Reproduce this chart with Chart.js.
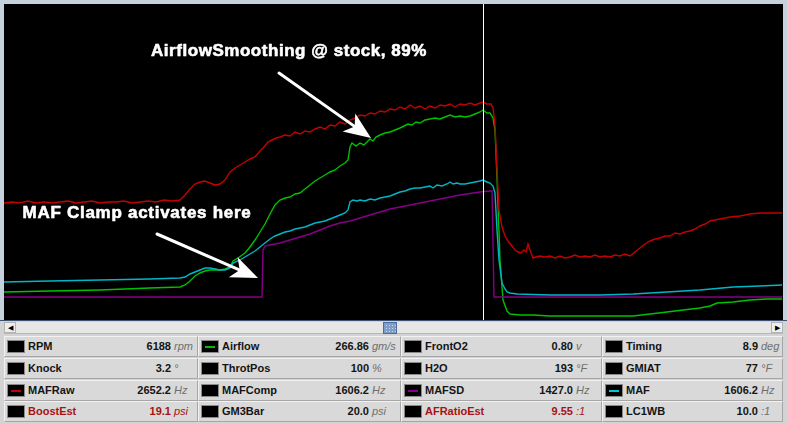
<!DOCTYPE html>
<html><head><meta charset="utf-8">
<script src="https://cdn.jsdelivr.net/npm/chart.js@4/dist/chart.umd.min.js"></script>
<style>
html,body{margin:0;padding:0;}
body{width:787px;height:424px;position:relative;overflow:hidden;background:#d3d3d3;font-family:"Liberation Sans",Arial,sans-serif;}
#frame{position:absolute;left:0;top:0;width:787px;height:321px;background:#c5d1dd;border-bottom:1px solid #3d4f73;box-sizing:border-box;}
#plot{position:absolute;left:4px;top:4px;width:779px;height:316px;background:#000;}
#sb{position:absolute;left:4px;top:322px;width:779px;height:12px;background:#e6e6e6;box-sizing:border-box;border-bottom:1px solid #b8b8b8;}
.btn{position:absolute;top:0;width:12px;height:11px;background:#eeeeee;border:1px solid #b4b4b4;box-sizing:border-box;font-size:7px;line-height:9px;text-align:center;color:#000;}
#thumb{position:absolute;left:379px;top:0;width:14px;height:12px;box-sizing:border-box;border:1px solid #4d6c9e;background-color:#7f9dc9;background-image:radial-gradient(circle,#c8d6ee 0.6px,transparent 0.9px);background-size:3px 3px;background-position:1px 1px;}
.cell{position:absolute;height:21px;background:#d9d9d9;box-sizing:border-box;border-top:1px solid #f2f2f2;border-left:1px solid #f2f2f2;border-right:1px solid #a6a6a6;border-bottom:1px solid #a6a6a6;}
.sw{position:absolute;left:2px;top:3px;width:18px;height:13px;background:#000;box-sizing:border-box;border:1px solid #8a8a8a;}
.sw i{position:absolute;left:3px;right:3px;top:5px;height:2px;}
.lb{position:absolute;left:23px;top:0;line-height:19px;font-size:11px;font-weight:bold;color:#141414;white-space:nowrap;}
.num{position:absolute;top:0;line-height:19px;font-size:11px;font-weight:bold;color:#141414;text-align:right;white-space:nowrap;}
.unit{position:absolute;top:0;line-height:19px;font-size:11px;font-style:italic;color:#6e6e6e;white-space:nowrap;}
.red{color:#a81212 !important;}
</style></head>
<body>
<div id="frame"></div>
<div id="plot"><canvas id="c" width="779" height="316"></canvas></div>
<div id="sb"><div class="btn" style="left:0">&#9664;</div><div id="thumb"></div><div class="btn" style="left:767px">&#9654;</div></div>
<div id="panel"></div>
<script>
// ---- time axis (sample index) and traces ----
const mafRawT = [0,8,16,24,32,40,48,56,64,72,80,88,96,104,112,120,128,136,144,152,160,168,176,181,186,191,196,201,206,211,216,221,226,231,236,241,246,251,256,260,264,268,272,276,281,286,291,296,301,306,311,316,321,326,331,336,341,346,351,356,361,366,371,376,381,386,391,396,401,406,411,416,421,426,431,436,441,446,451,456,461,466,471,476,479,483,487,489,491,493,495,498,501,504,508,511,514,517,520,522,524,526,529,532,536,541,546,551,556,561,566,571,576,581,586,591,596,601,606,611,616,621,626,631,636,641,646,651,656,661,666,671,676,681,686,691,696,701,706,711,716,721,726,736,746,756,766,778];
const mafRawV = [117,118,117,119,117,118,117,118,119,117,118,119,117,118,118,119,117,118,119,118,120,119,120,125,131,136,138,139,137,135,136,140,148,152,155,158,161,163,169,173,178,180,182,183,185,184,188,186,189,188,191,193,191,195,194,198,196,200,202,205,204,207,206,209,208,211,210,213,211,215,212,214,211,214,212,215,214,216,213,216,215,217,215,217,218,216,216,212,195,150,110,93,84,79,74,70,68,67,70,68,76,70,62,63,64,63,64,62,64,62,63,65,63,64,63,65,63,64,63,65,64,66,64,68,72,76,79,81,82,84,84,87,86,88,89,91,94,96,99,100,101,102,103,104,106,107,107,107];

const airflowT = [0,46,96,146,176,181,186,191,196,201,206,211,216,221,226,229,234,241,246,251,256,261,266,271,276,281,286,291,296,301,306,311,316,321,326,331,336,341,344,346,348,352,356,360,363,366,369,372,376,381,386,391,396,400,404,408,412,416,421,426,431,436,441,446,451,456,461,466,471,476,479,483,486,489,491,493,496,499,503,506,516,529,546,566,596,629,646,663,679,696,706,713,729,746,763,778];
const airflowV = [28,29,30,32,33,35,39,44,47,49,50,50,50,51,53,59,62,67,73,80,88,96,106,115,120,122,123,126,127,131,135,139,142,145,148,150,154,157,160,173,177,174,177,175,178,181,179,183,185,187,188,190,192,194,196,195,198,197,200,201,202,201,203,205,203,204,203,204,206,208,210,207,207,202,190,143,60,20,9,6,5,5,4,4,4,4,6,8,10,12,14,17,18,20,21,21];

const mafT = [0,46,96,146,176,181,186,191,196,201,206,211,216,221,226,229,236,241,246,251,256,261,266,271,276,281,286,291,296,301,306,311,316,321,326,331,336,341,344,346,349,353,356,361,366,371,376,381,386,391,396,401,406,411,416,421,426,429,433,438,443,446,449,453,456,461,466,471,476,479,483,486,489,491,493,495,498,501,503,506,513,546,596,629,663,696,729,756,778];
const mafV = [38,39,40,41,42,43,46,48,50,52,52,51,50,50,52,57,60,63,66,69,73,77,81,84,86,88,89,91,92,93,95,97,98,99,101,103,105,107,110,118,120,119,120,119,121,120,122,123,124,126,128,129,131,132,132,133,134,132,135,134,136,138,136,137,136,136,137,138,139,140,138,137,134,127,90,60,37,31,28,27,26,25,25,26,28,30,33,34,35];

const mafsdT = [0,96,196,258,259,261,266,276,286,296,306,316,326,336,346,356,366,376,386,396,416,436,456,476,486,488,490,516,596,696,778];
const mafsdV = [23,23,23,23,70,74,75,77,80,83,86,90,94,97,99,102,105,108,111,113,117,121,125,128,129,129,23,23,23,23,23];

const seriesNames = ["MAFRaw","MAFSD","MAF","Airflow"];
const seriesColors = ["#c40000","#860086","#00b6c6","#00c000"];
const cursorT = 479;

// annotations (data units)
const note1 = {text:"AirflowSmoothing @ stock, 89%", t:285, v:269, w:276};
const note2 = {text:"MAF Clamp activates here", t:133, v:107, w:229};
const arrow1 = {t0:275, v0:247, t1:367, v1:182};
const arrow2 = {t0:153, v0:86, t1:254, v1:42};

// ---- gauge panel ----
const panelLabels = ["RPM","Airflow","FrontO2","Timing","Knock","ThrotPos","H2O","GMIAT","MAFRaw","MAFComp","MAFSD","MAF","BoostEst","GM3Bar","AFRatioEst","LC1WB"];
const panelValues = ["6188","266.86","0.80","8.9","3.2","100","193","77","2652.2","1606.2","1427.0","1606.2","19.1","20.0","9.55","10.0"];
const panelUnits = ["rpm","gm/s","v","deg","°","%","°F","°F","Hz","Hz","Hz","Hz","psi","psi",":1",":1"];
const panelSwatch = ["","#00c000","","","","","","","#c40000","","#860086","#00c8d0","","","",""];
const panelRed = [false,false,false,false,false,false,false,false,false,false,false,false,true,false,true,false];

const colX = [4,198,401,602], colW = [194,203,201,181], numRight = [171,369,573,758];
const rowY = [336,358,380,401];
const panel = document.getElementById('panel');
panelLabels.forEach((lab,i)=>{
  const r = Math.floor(i/4), c = i%4;
  const d = document.createElement('div');
  d.className='cell';
  d.style.left=colX[c]+'px'; d.style.top=rowY[r]+'px'; d.style.width=colW[c]+'px';
  const sw = panelSwatch[i] ? `<i style="background:${panelSwatch[i]}"></i>` : '';
  const red = panelRed[i] ? ' red' : '';
  const nr = numRight[c]-colX[c]-1;
  d.innerHTML = `<div class="sw">${sw}</div><div class="lb${red}">${lab}</div>`+
    `<div class="num${red}" style="right:${colW[c]-2-nr}px">${panelValues[i]}</div>`+
    `<div class="unit${red}" style="left:${nr+3}px">${panelUnits[i]}</div>`;
  panel.appendChild(d);
});

// ---- chart ----
function pts(T,V){return T.map((t,i)=>({x:t,y:V[i]}));}
const dsData = [pts(mafRawT,mafRawV),pts(mafsdT,mafsdV),pts(mafT,mafV),pts(airflowT,airflowV)];

function drawArrow(ctx,x0,y0,x1,y1){
  const a=Math.atan2(y1-y0,x1-x0), L=27, H=11;
  const bx=x1-L*Math.cos(a), by=y1-L*Math.sin(a);
  ctx.beginPath(); ctx.moveTo(x0,y0); ctx.lineTo(bx+6*Math.cos(a),by+6*Math.sin(a)); ctx.stroke();
  ctx.beginPath(); ctx.moveTo(x1,y1);
  ctx.lineTo(bx+H*Math.sin(a), by-H*Math.cos(a));
  ctx.lineTo(bx+7*Math.cos(a), by+7*Math.sin(a));
  ctx.lineTo(bx-H*Math.sin(a), by+H*Math.cos(a));
  ctx.closePath(); ctx.fill();
}
function drawNote(ctx,x,y,n){
  ctx.font='bold 17px "Liberation Sans", Arial, sans-serif';
  ctx.letterSpacing='0px';
  const m=ctx.measureText(n.text).width;
  const ls=(n.w-m)/n.text.length;
  ctx.letterSpacing=ls+'px';
  ctx.textAlign='left'; ctx.textBaseline='middle';
  ctx.lineWidth=0.6; ctx.lineJoin='round';
  ctx.fillText(n.text,x-n.w/2,y);
  ctx.strokeText(n.text,x-n.w/2,y);
}
const overlay = {
  id:'overlay',
  afterDatasetsDraw(chart){
    const {ctx,scales:{x,y}}=chart;
    ctx.save();
    ctx.strokeStyle='#ffffff'; ctx.fillStyle='#ffffff';
    ctx.lineWidth=1;
    const cx=Math.round(x.getPixelForValue(cursorT))+0.5;
    ctx.beginPath(); ctx.moveTo(cx,0); ctx.lineTo(cx,chart.height); ctx.stroke();
    ctx.lineWidth=3; ctx.lineCap='round';
    drawArrow(ctx,x.getPixelForValue(arrow1.t0),y.getPixelForValue(arrow1.v0),x.getPixelForValue(arrow1.t1),y.getPixelForValue(arrow1.v1));
    drawArrow(ctx,x.getPixelForValue(arrow2.t0),y.getPixelForValue(arrow2.v0),x.getPixelForValue(arrow2.t1),y.getPixelForValue(arrow2.v1));
    drawNote(ctx,x.getPixelForValue(note1.t),y.getPixelForValue(note1.v),note1);
    drawNote(ctx,x.getPixelForValue(note2.t),y.getPixelForValue(note2.v),note2);
    ctx.restore();
  }
};
new Chart(document.getElementById('c'),{
  type:'line',
  data:{datasets:seriesNames.map((n,i)=>({label:n,data:dsData[i],borderColor:seriesColors[i],borderWidth:1.4,pointRadius:0,tension:0,fill:false}))},
  options:{
    responsive:false,animation:false,devicePixelRatio:1,
    layout:{padding:0},
    parsing:true,
    plugins:{legend:{display:false},tooltip:{enabled:false}},
    scales:{
      x:{type:'linear',min:0,max:779,display:false},
      y:{type:'linear',min:0,max:316,display:false}
    }
  },
  plugins:[overlay]
});
</script>
</body></html>
